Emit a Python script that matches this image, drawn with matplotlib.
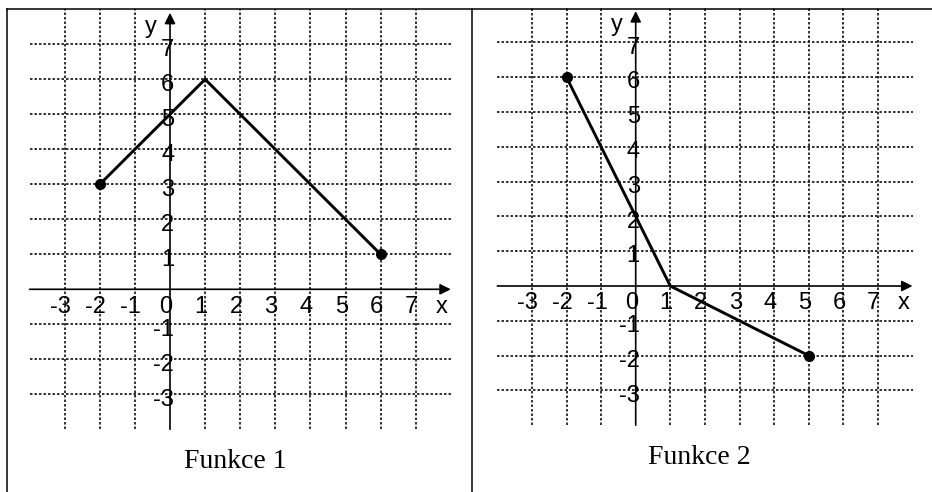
import numpy as np
import matplotlib
matplotlib.use('Agg')
import matplotlib.pyplot as plt
from matplotlib.lines import Line2D

# piecewise-linear functions, one per panel
f1_x = [-2, 1, 6]
f1_y = [3, 6, 1]
f2_x = [-2, 1, 5]
f2_y = [6, 0, -2]
titles = ['Funkce 1', 'Funkce 2']

x_ticks = [-3, -2, -1, 0, 1, 2, 3, 4, 5, 6, 7]
y_ticks = [7, 6, 5, 4, 3, 2, 1, -1, -2, -3]

W, H = 932, 492
SANS = 'Liberation Sans'
SERIF = 'Liberation Serif'
FS = 17


def panel(fig, ox, oy, ux, uy, xs, ys, title):
  # ox, oy: pixel position of the origin, ux, uy: pixels per unit
  xlim = (-4.5, 8.5)
  ylim = (-5.6, 8.05)
  left = ox + xlim[0]*ux
  right = ox + xlim[1]*ux
  top = oy - ylim[1]*uy
  bottom = oy - ylim[0]*uy
  ax = fig.add_axes([left/W, 1 - bottom/H, (right - left)/W, (bottom - top)/H])
  ax.set_xlim(*xlim)
  ax.set_ylim(*ylim)
  ax.axis('off')

  grid = dict(color='#111111', lw=1.2, ls=(0, (1.5, 1.2)), zorder=1)
  for gx in x_ticks:
    if gx != 0:
      ax.plot([gx, gx], [-4, 8], **grid)
  for gy in y_ticks:
    ax.plot([-4, 8], [gy, gy], **grid)

  arrow = dict(arrowstyle='-|>', lw=1.2, color='black', mutation_scale=16,
               shrinkA=0, shrinkB=0)
  ax.annotate('', xy=(8.0, 0), xytext=(-4, 0), arrowprops=arrow, zorder=3)
  ax.annotate('', xy=(0, 7.9), xytext=(0, -4), arrowprops=arrow, zorder=3)

  for t in x_ticks:
    ax.text(t - 0.12, -0.5, str(t), ha='center', va='center',
            fontsize=FS, family=SANS, zorder=4)
  for t in y_ticks:
    ax.text(0.12, t - 0.15, str(t), ha='right', va='center',
            fontsize=FS, family=SANS, zorder=4)
  ax.text(7.75, -0.5, 'x', ha='center', va='center', fontsize=FS, family=SANS)
  ax.text(-0.55, 7.5, 'y', ha='center', va='center', fontsize=FS, family=SANS)

  ax.plot(xs, ys, color='black', lw=2.1, solid_joinstyle='miter', zorder=5)
  ax.plot([xs[0], xs[-1]], [ys[0], ys[-1]], 'o', color='black', ms=7, zorder=6)

  ax.text(1.85, -4.93, title, ha='center', va='center', fontsize=20, family=SERIF)
  return ax


fig = plt.figure(figsize=(W/100, H/100), dpi=100)

panel(fig, 170, 289.3, 35.1, 35.0, f1_x, f1_y, titles[0])
panel(fig, 635.7, 286.0, 34.6, 34.8, f2_x, f2_y, titles[1])

# table border around the two cells
frame = dict(color='black', lw=1.1, transform=fig.transFigure)
fig.add_artist(Line2D([7/W, 1.0], [1 - 9/H, 1 - 9/H], **frame))
fig.add_artist(Line2D([7/W, 7/W], [0, 1 - 9/H], **frame))
fig.add_artist(Line2D([472/W, 472/W], [0, 1 - 9/H], **frame))

fig.savefig('out.png', dpi=100)
